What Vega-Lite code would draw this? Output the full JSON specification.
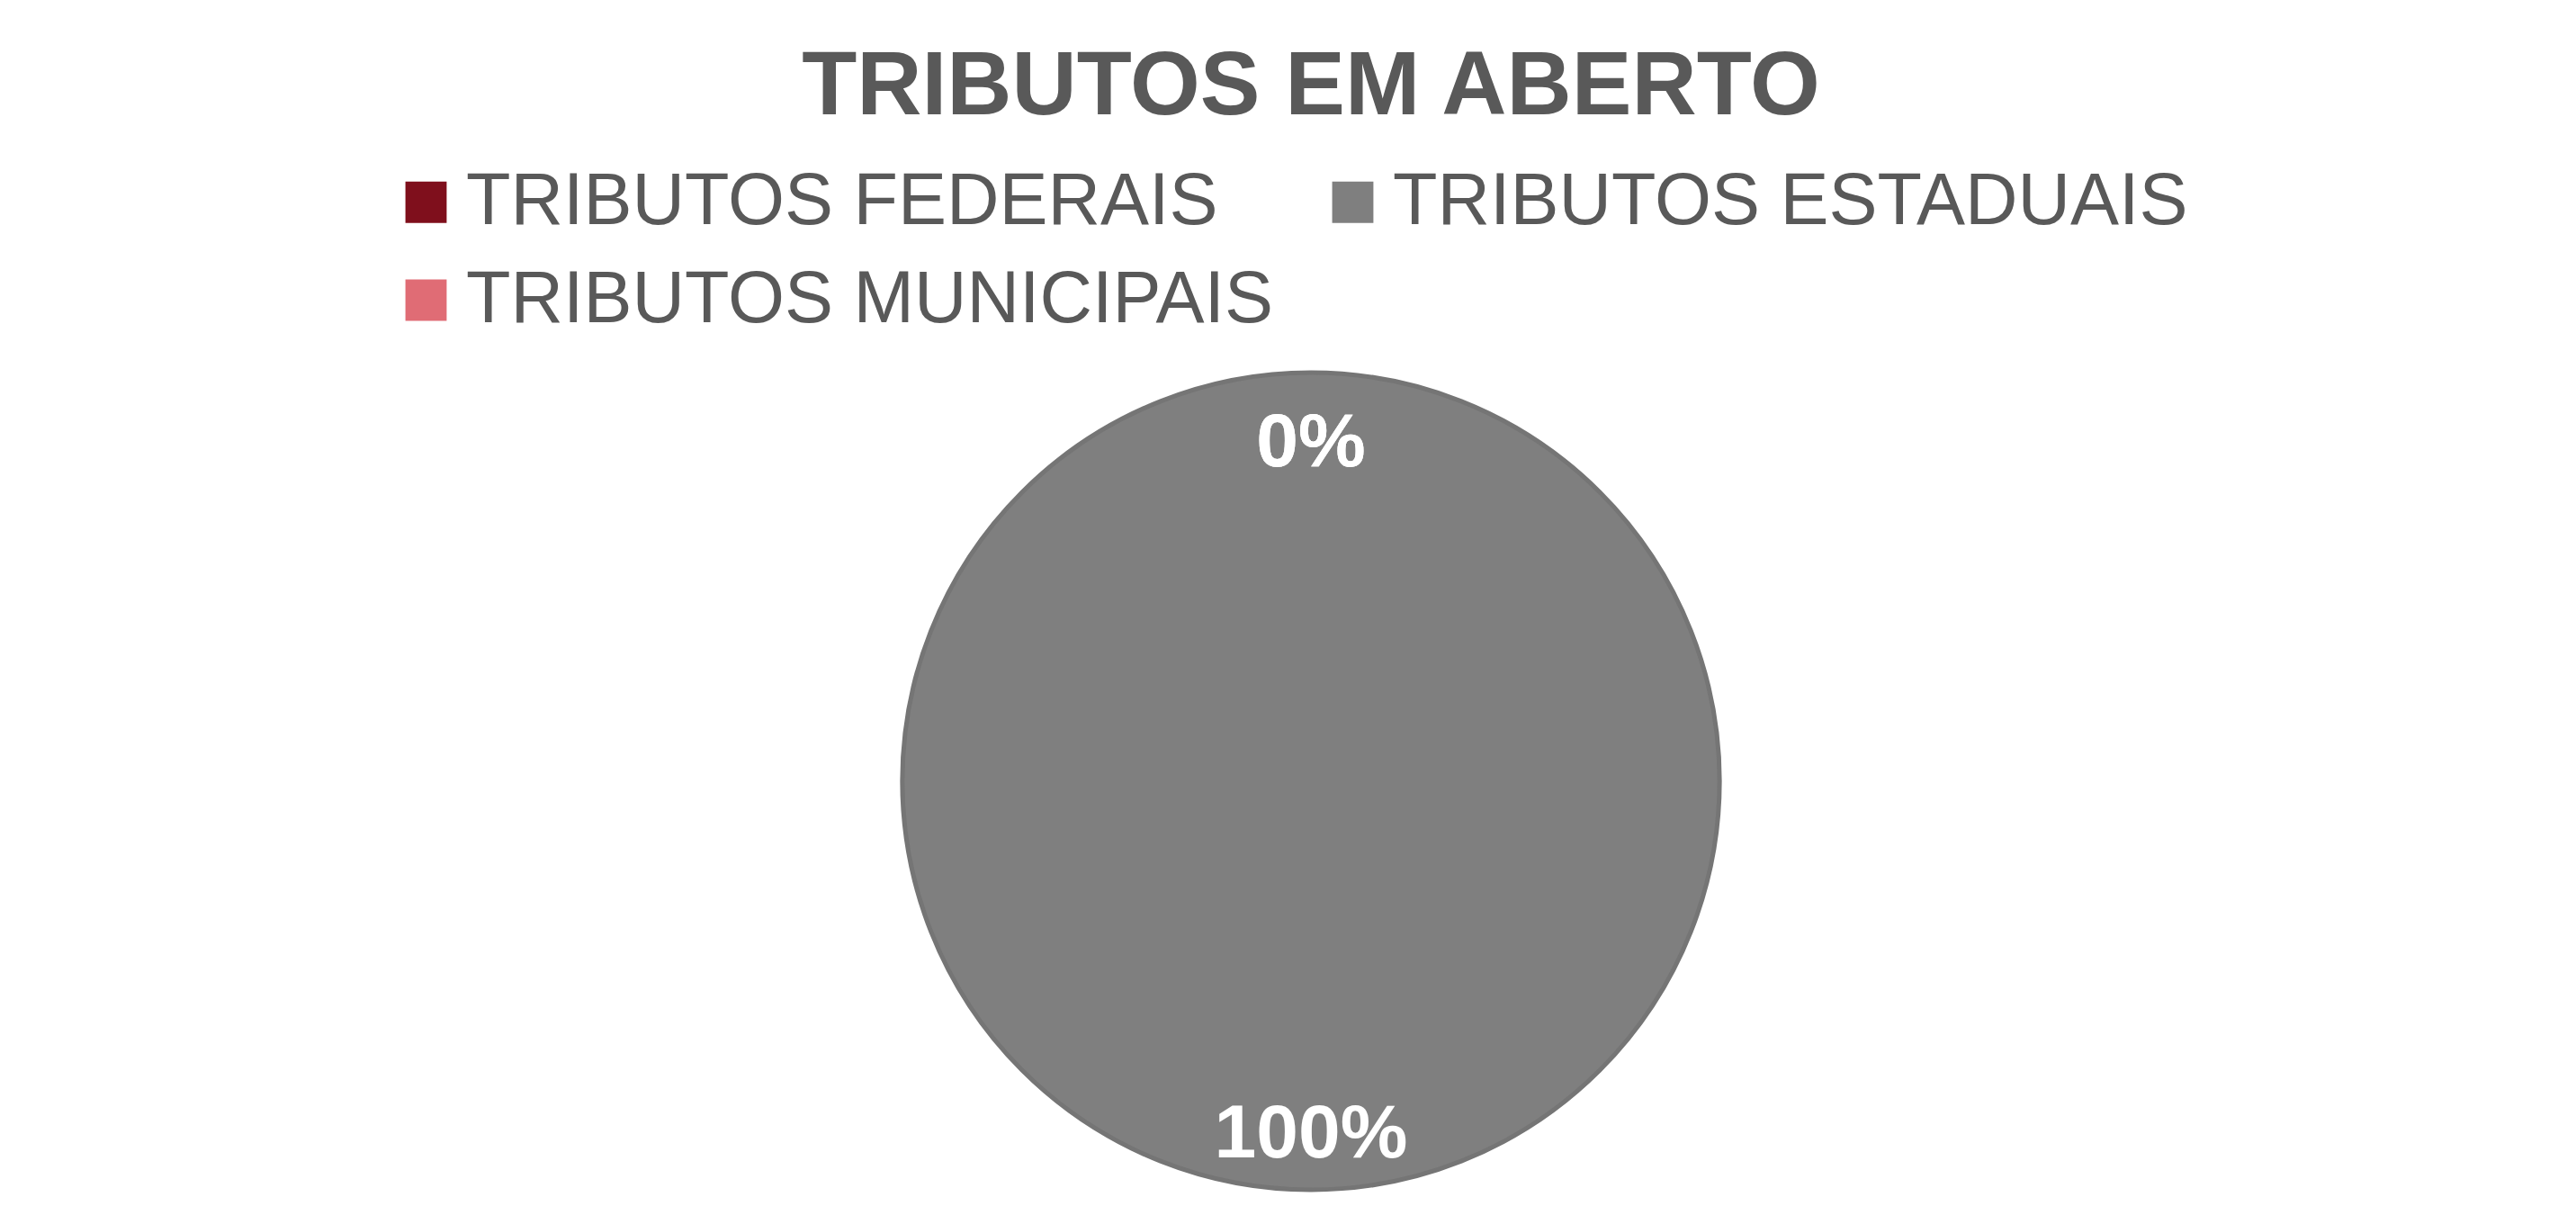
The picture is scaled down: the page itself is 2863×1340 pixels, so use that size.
{
  "$schema": "https://vega.github.io/schema/vega-lite/v6.json",
  "autosize": {"type": "none"},
  "width": 908,
  "height": 908,
  "padding": {"left": 1003, "top": 414, "right": 952, "bottom": 18},
  "background": "white",
  "title": {
    "text": "TRIBUTOS EM ABERTO",
    "anchor": "middle",
    "font": "Liberation Sans",
    "fontSize": 100,
    "fontWeight": "bold",
    "color": "#595959",
    "baseline": "alphabetic",
    "offset": -43
  },
  "data": {
    "values": [
      {"tributo": "TRIBUTOS FEDERAIS", "percentual": 0},
      {"tributo": "TRIBUTOS ESTADUAIS", "percentual": 1},
      {"tributo": "TRIBUTOS MUNICIPAIS", "percentual": 0}
    ]
  },
  "config": {"view": {"stroke": null}},
  "layer": [
    {
      "transform": [{"filter": "datum.percentual > 0"}],
      "mark": {"type": "arc", "stroke": "#757575", "strokeWidth": 5},
      "encoding": {
        "theta": {"field": "percentual", "type": "quantitative", "stack": true},
        "color": {
          "field": "tributo",
          "type": "nominal",
          "sort": null,
          "scale": {
            "domain": ["TRIBUTOS FEDERAIS", "TRIBUTOS MUNICIPAIS", "TRIBUTOS ESTADUAIS"],
            "range": ["#7f0f1c", "#e06c75", "#7f7f7f"]
          },
          "legend": {
            "title": null,
            "orient": "none",
            "legendX": -570,
            "legendY": -230,
            "columns": 2,
            "columnPadding": 47,
            "rowPadding": 27,
            "symbolType": "square",
            "symbolSize": 2100,
            "symbolStrokeWidth": 0,
            "symbolOpacity": 1,
            "labelFont": "Liberation Sans",
            "labelFontSize": 81,
            "labelColor": "#595959",
            "labelOffset": 4,
            "labelLimit": 2000
          }
        }
      }
    },
    {
      "mark": {
        "type": "text",
        "radius": 384,
        "dy": 9,
        "font": "Liberation Sans",
        "fontSize": 84,
        "fontWeight": "bold",
        "fill": "white",
        "align": "center",
        "baseline": "middle"
      },
      "encoding": {
        "theta": {"field": "percentual", "type": "quantitative", "stack": true},
        "detail": {"field": "tributo", "type": "nominal"},
        "text": {"field": "percentual", "type": "quantitative", "format": ".0%"}
      }
    }
  ]
}
